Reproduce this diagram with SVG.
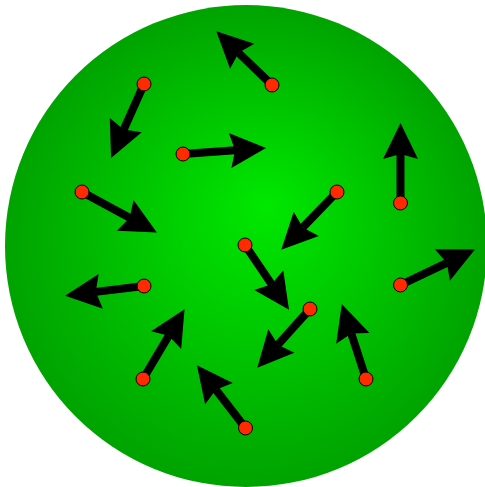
<svg xmlns="http://www.w3.org/2000/svg" width="485" height="487" viewBox="0 0 485 487">
  <defs>
    <radialGradient id="bg" gradientUnits="userSpaceOnUse" cx="246" cy="246" r="241" fx="268" fy="205">
      <stop offset="0" stop-color="#00e800"/>
      <stop offset="1" stop-color="#00a300"/>
    </radialGradient>
    <marker id="head" markerUnits="userSpaceOnUse" orient="auto" refX="0" refY="0" markerWidth="80" markerHeight="80" overflow="visible">
      <path d="M31,0 L-5,-17.5 L0,0 L-5,17.5 Z" fill="#000"/>
    </marker>
  </defs>
  <style>
    .v { stroke: #000; stroke-width: 8; fill: none; marker-end: url(#head); }
    .p { fill: #ff2a00; stroke: #000; stroke-width: 1; }
  </style>
  <circle id="sphere" cx="246" cy="246" r="241" fill="url(#bg)"/>
  <g id="vectors">
    <line class="v" x1="272" y1="85" x2="238.6" y2="52.8"/>
    <line class="v" x1="144" y1="84" x2="123.7" y2="129.6"/>
    <line class="v" x1="183" y1="154" x2="235.1" y2="150.2"/>
    <line class="v" x1="82" y1="192" x2="129.6" y2="217.7"/>
    <line class="v" x1="337" y1="192" x2="302.8" y2="227.4"/>
    <line class="v" x1="245" y1="245" x2="271.6" y2="284.2"/>
    <line class="v" x1="400.5" y1="203" x2="400.5" y2="154"/>
    <line class="v" x1="400.5" y1="285" x2="446.9" y2="262.9"/>
    <line class="v" x1="144" y1="286" x2="95.8" y2="291.9"/>
    <line class="v" x1="310" y1="309" x2="278" y2="344.7"/>
    <line class="v" x1="143" y1="379" x2="168.7" y2="335.8"/>
    <line class="v" x1="366" y1="379" x2="351.3" y2="333.5"/>
    <line class="v" x1="245.5" y1="428" x2="215.9" y2="389.7"/>
  </g>
  <g id="p1"><circle class="p" cx="272" cy="85" r="7"/></g>
  <g id="p2"><circle class="p" cx="144" cy="84" r="7"/></g>
  <g id="p3"><circle class="p" cx="183" cy="154" r="7"/></g>
  <g id="p4"><circle class="p" cx="82" cy="192" r="7"/></g>
  <g id="p5"><circle class="p" cx="337" cy="192" r="7"/></g>
  <g id="p6"><circle class="p" cx="245" cy="245" r="7"/></g>
  <g id="p7"><circle class="p" cx="400.5" cy="203" r="7"/></g>
  <g id="p8"><circle class="p" cx="400.5" cy="285" r="7"/></g>
  <g id="p9"><circle class="p" cx="144" cy="286" r="7"/></g>
  <g id="p10"><circle class="p" cx="310" cy="309" r="7"/></g>
  <g id="p11"><circle class="p" cx="143" cy="379" r="7"/></g>
  <g id="p12"><circle class="p" cx="366" cy="379" r="7"/></g>
  <g id="p13"><circle class="p" cx="245.5" cy="428" r="7"/></g>
</svg>
